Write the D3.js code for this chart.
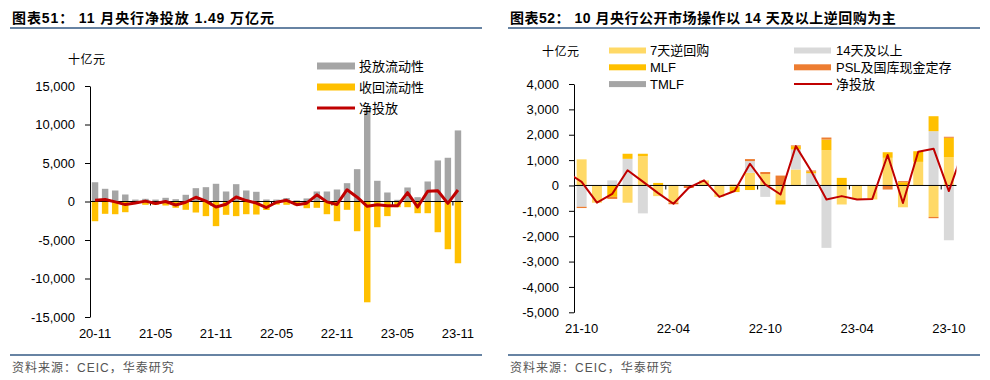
<!DOCTYPE html>
<html>
<head>
<meta charset="utf-8">
<script src="https://cdn.jsdelivr.net/npm/d3@7"></script>
<style>
  body { margin: 0; background: #fff; }
  svg text { font-family: "Liberation Sans", "Noto Sans CJK SC", sans-serif; }
</style>
</head>
<body>
<div id="chart"></div>
<script>
// ---- left chart data (十亿元), 20-11 .. 23-11
const months1 = ['20-11','20-12','21-01','21-02','21-03','21-04','21-05','21-06','21-07','21-08','21-09','21-10',
  '21-11','21-12','22-01','22-02','22-03','22-04','22-05','22-06','22-07','22-08','22-09','22-10',
  '22-11','22-12','23-01','23-02','23-03','23-04','23-05','23-06','23-07','23-08','23-09','23-10','23-11'];
const injectVals = [2500, 1650, 1430, 910, 250, 350, 250, 480, 300, 870, 1730, 1860, 2300, 1300, 2250, 1430, 1260, 260,
  250, 450, 150, 400, 1300, 1300, 1560, 2380, 4200, 11900, 2690, 1170, 220, 1820, 560, 2600, 5330, 5680, 9230];
const withdrawVals = [-2560, -1600, -1650, -1390, -300, -430, -430, -520, -820, -1080, -1430, -1900, -3200, -1730, -1900, -1650, -1690, -1100,
  -400, -430, -500, -870, -820, -1650, -2560, -1080, -3860, -13090, -3340, -1900, -740, -740, -1520, -1520, -3990, -6200, -8020];
const netVals1 = [150, 250, -50, -400, -200, 50, -250, 0, -450, -100, 550, 50, -720, -350, 580, 120, -200, -780,
  -100, 150, -420, -220, 870, -50, -380, 1530, 560, -620, -430, -560, -560, 1150, -720, 1340, 1400, -240, 1490];
const yTicks1 = [-15000, -10000, -5000, 0, 5000, 10000, 15000];
const xLabels1 = ['20-11', '21-05', '21-11', '22-05', '22-11', '23-05', '23-11'];
const legend1 = ['投放流动性', '收回流动性', '净投放'];

// ---- right chart data (十亿元), bars 21-10 .. 23-10, line 21-09 .. 23-11
const months2 = ['21-09','21-10','21-11','21-12','22-01','22-02','22-03','22-04','22-05','22-06','22-07','22-08','22-09',
  '22-10','22-11','22-12','23-01','23-02','23-03','23-04','23-05','23-06','23-07','23-08','23-09','23-10','23-11'];
const barMonths = months2.slice(1, 26);
const repo7 = [1030, -680, 0, -680, 1150, -420, -680, 0, 200, -450, -60, 500, 450, -580, 630, 0, 1390, -750, -550, -550, 1090, -860, 930, -1240, 1120];
const repo14 = [-840, 0, 200, 1050, -1100, 0, 0, 0, 0, 0, 0, 460, -450, 0, 790, 480, -2460, 0, 0, 0, 0, 0, 0, 2140, -2160];
const mlf = [0, 0, -450, 200, 100, 100, 0, 0, 0, 0, -200, -180, 0, -170, 130, 70, 420, 300, 0, 0, 220, 130, 420, 590, 760];
const psl = [-50, 0, -80, 0, 0, 0, -60, -100, 0, 0, 30, 80, 80, 390, 30, 40, 80, 0, 0, 20, -160, 40, 0, -50, 40];
const tmlf = [0, 0, 0, 0, 0, 0, 0, 0, 0, 0, 0, 0, 0, 0, 0, 0, 0, 0, 0, 0, 0, 0, 0, 0, 0];
const netVals2 = [540, 140, -680, -330, 600, 150, -300, -720, -90, 200, -450, -220, 855, 40, -355, 1550, 570,
  -550, -420, -550, -530, 1200, -690, 1330, 1450, -220, 1490];
const yTicks2 = [-5000, -4000, -3000, -2000, -1000, 0, 1000, 2000, 3000, 4000];
const xLabels2 = ['21-10', '22-04', '22-10', '23-04', '23-10'];
const seriesKeys = ['7天逆回购', '14天及以上', 'MLF', 'PSL及国库现金定存', 'TMLF'];
const seriesColors = ['#FFD966', '#D9D9D9', '#FFC000', '#ED7D31', '#A5A5A5'];

const fmt = d => d3.format(',')(d).replace('−', '-');

const svg = d3.select('#chart').append('svg')
  .attr('width', 990)
  .attr('height', 380);

// ---------- titles, rules, sources
const headers = [
  { x: 12, x2: 482, title: '图表51：  11 月央行净投放 1.49 万亿元', ls: 0.9 },
  { x: 510, x2: 980, title: '图表52：  10 月央行公开市场操作以 14 天及以上逆回购为主', ls: 0.5 }
];
headers.forEach(h => {
  svg.append('text').attr('x', h.x).attr('y', 23)
    .style('font-size', '14px').style('font-weight', 'bold')
    .style('letter-spacing', h.ls + 'px')
    .text(h.title);
  svg.append('line').attr('x1', h.x - 2).attr('x2', h.x2).attr('y1', 28).attr('y2', 28)
    .attr('stroke', '#6783A3').attr('stroke-width', 2);
  svg.append('line').attr('x1', h.x - 2).attr('x2', h.x2).attr('y1', 355).attr('y2', 355)
    .attr('stroke', '#6783A3').attr('stroke-width', 2);
  svg.append('text').attr('x', h.x).attr('y', 372)
    .style('font-size', '12px').style('letter-spacing', '1px').attr('fill', '#555')
    .text('资料来源：CEIC，华泰研究');
});

// ================= left chart =================
const g1 = svg.append('g');
const x1 = d3.scaleBand().domain(months1).range([90, 463]);
const y1 = d3.scaleLinear().domain([-15000, 15000]).range([317, 86]);
const bw1 = x1.bandwidth() * 0.64;
const cx1 = m => x1(m) + x1.bandwidth() / 2;

g1.selectAll('.inj').data(injectVals).join('rect')
  .attr('x', (d, i) => cx1(months1[i]) - bw1 / 2)
  .attr('y', d => y1(d))
  .attr('width', bw1)
  .attr('height', d => y1(0) - y1(d))
  .attr('fill', '#A5A5A5');

g1.selectAll('.wd').data(withdrawVals).join('rect')
  .attr('x', (d, i) => cx1(months1[i]) - bw1 / 2)
  .attr('y', y1(0))
  .attr('width', bw1)
  .attr('height', d => y1(d) - y1(0))
  .attr('fill', '#FFC000');

g1.append('g')
  .attr('transform', 'translate(90,0)')
  .call(d3.axisLeft(y1).tickValues(yTicks1).tickFormat(fmt).tickSize(5).tickPadding(10).tickSizeOuter(0))
  .call(a => a.selectAll('text').style('font-size', '13px').attr('fill', '#000').style('font-family', 'Liberation Sans'));

// zero axis with boundary ticks
g1.append('line').attr('x1', 90).attr('x2', 463).attr('y1', y1(0)).attr('y2', y1(0)).attr('stroke', '#000');
g1.selectAll('.xt').data(xLabels1.slice(1)).join('line')
  .attr('x1', d => x1(d)).attr('x2', d => x1(d))
  .attr('y1', y1(0)).attr('y2', y1(0) + 4).attr('stroke', '#000');
g1.selectAll('.xl').data(xLabels1).join('text')
  .attr('x', d => cx1(d)).attr('y', 338)
  .attr('text-anchor', 'middle').style('font-size', '13px')
  .text(d => d);

g1.append('path').datum(netVals1)
  .attr('d', d3.line().x((d, i) => cx1(months1[i])).y(d => y1(d)))
  .attr('fill', 'none').attr('stroke', '#C00000').attr('stroke-width', 3)
  .attr('stroke-linejoin', 'round');

g1.append('text').attr('x', 68).attr('y', 64).style('font-size', '12px').style('letter-spacing', '0.5px').text('十亿元');

// left legend
const leg1 = g1.selectAll('.leg').data(legend1).join('g')
  .attr('transform', (d, i) => `translate(317, ${66 + i * 21})`);
leg1.each(function (d, i) {
  const s = d3.select(this);
  if (i < 2) {
    s.append('rect').attr('x', 0).attr('y', -3.5).attr('width', 38).attr('height', 7)
      .attr('fill', i === 0 ? '#A5A5A5' : '#FFC000');
  } else {
    s.append('line').attr('x1', 0).attr('x2', 38).attr('y1', 0).attr('y2', 0)
      .attr('stroke', '#C00000').attr('stroke-width', 3);
  }
  s.append('text').attr('x', 42).attr('y', 4.5).style('font-size', '13px').text(d);
});

// ================= right chart =================
const g2 = svg.append('g');
const step2 = (956.5 - 574) / barMonths.length;
const x2 = d3.scaleBand().domain(months2).range([574 - step2, 574 + (months2.length - 1) * step2]);
const y2 = d3.scaleLinear().domain([-5000, 4000]).range([312.3, 84]);
const bw2 = x2.bandwidth() * 0.65;
const cx2 = m => x2(m) + x2.bandwidth() / 2;

svg.append('defs').append('clipPath').attr('id', 'clip2')
  .append('rect').attr('x', 574).attr('y', 70).attr('width', 956.5 - 574).attr('height', 260);

const table = barMonths.map((m, i) => ({
  month: m,
  '7天逆回购': repo7[i],
  '14天及以上': repo14[i],
  'MLF': mlf[i],
  'PSL及国库现金定存': psl[i],
  'TMLF': tmlf[i]
}));
const stacked = d3.stack().keys(seriesKeys).offset(d3.stackOffsetDiverging)(table);

g2.append('g').selectAll('g').data(stacked).join('g')
  .attr('fill', (d, i) => seriesColors[i])
  .selectAll('rect').data(d => d).join('rect')
  .attr('x', d => cx2(d.data.month) - bw2 / 2)
  .attr('y', d => y2(Math.max(d[0], d[1])))
  .attr('width', bw2)
  .attr('height', d => Math.abs(y2(d[0]) - y2(d[1])));

g2.append('g')
  .attr('transform', 'translate(574,0)')
  .call(d3.axisLeft(y2).tickValues(yTicks2).tickFormat(fmt).tickSize(5).tickPadding(10).tickSizeOuter(0))
  .call(a => a.selectAll('text').style('font-size', '13px').attr('fill', '#000').style('font-family', 'Liberation Sans'));

g2.append('line').attr('x1', 574).attr('x2', 956.5).attr('y1', y2(0)).attr('y2', y2(0)).attr('stroke', '#000');
g2.selectAll('.xt').data(xLabels2.slice(1)).join('line')
  .attr('x1', d => x2(d)).attr('x2', d => x2(d))
  .attr('y1', y2(0)).attr('y2', y2(0) + 4).attr('stroke', '#000');
g2.selectAll('.xl').data(xLabels2).join('text')
  .attr('x', d => cx2(d)).attr('y', 333)
  .attr('text-anchor', 'middle').style('font-size', '13px')
  .text(d => d);

g2.append('path').datum(netVals2)
  .attr('clip-path', 'url(#clip2)')
  .attr('d', d3.line().x((d, i) => cx2(months2[i])).y(d => y2(d)))
  .attr('fill', 'none').attr('stroke', '#C00000').attr('stroke-width', 2)
  .attr('stroke-linejoin', 'round');

g2.append('text').attr('x', 542).attr('y', 56).style('font-size', '12px').style('letter-spacing', '0.5px').text('十亿元');

// right legend: two columns
const legend2 = [
  { name: '7天逆回购', color: seriesColors[0], col: 0, row: 0 },
  { name: '14天及以上', color: seriesColors[1], col: 1, row: 0 },
  { name: 'MLF', color: seriesColors[2], col: 0, row: 1 },
  { name: 'PSL及国库现金定存', color: seriesColors[3], col: 1, row: 1 },
  { name: 'TMLF', color: seriesColors[4], col: 0, row: 2 },
  { name: '净投放', color: '#C00000', col: 1, row: 2, line: true }
];
const leg2 = g2.selectAll('.leg').data(legend2).join('g')
  .attr('transform', d => `translate(${d.col ? 794 : 609}, ${50.5 + d.row * 16.8})`);
leg2.each(function (d) {
  const s = d3.select(this);
  if (d.line) {
    s.append('line').attr('x1', 0).attr('x2', 38).attr('y1', 0).attr('y2', 0)
      .attr('stroke', d.color).attr('stroke-width', 2);
  } else {
    s.append('rect').attr('x', 0).attr('y', -3).attr('width', 37).attr('height', 6).attr('fill', d.color);
  }
  s.append('text').attr('x', d.col ? 42 : 41).attr('y', 4.5).style('font-size', '13px').text(d.name);
});
</script>
</body>
</html>
